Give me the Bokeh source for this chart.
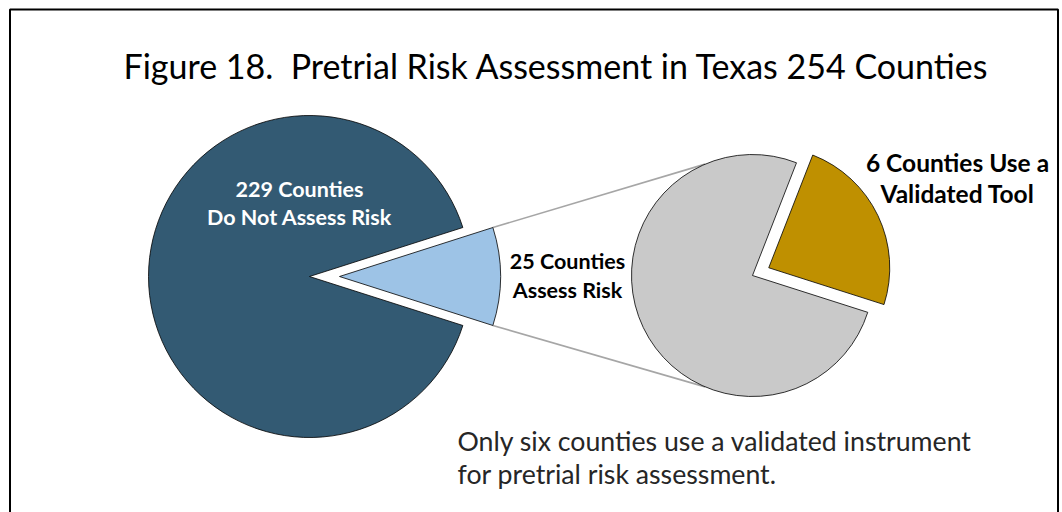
import math
from bokeh.plotting import figure
from bokeh.models import Range1d
from bokeh.core.properties import value
from bokeh.embed import file_html
from bokeh.resources import INLINE

# ---- data ----
total_counties = 254
main_labels = ["229 Counties\nDo Not Assess Risk", "25 Counties\nAssess Risk"]
main_values = [229, 25]
sub_labels = ["6 Counties Use a\nValidated Tool", "Not validated"]
sub_values = [6, 19]
title_text = "Figure 18.\u00a0 Pretrial Risk Assessment in Texas 254 Counties"
note_lines = ["Only six counties use a validated instrument",
              "for pretrial risk assessment."]

# ---- styles / layout ----
W, H = 1062, 512
FONT = "Lato"
c_dark = "#335A73"
c_blue = "#9DC3E6"
c_gray = "#C9C9C9"
c_gold = "#BF9000"
c_line = "#A6A6A6"

p = figure(width=W, height=H, output_backend="svg", toolbar_location=None,
           x_range=Range1d(0, W), y_range=Range1d(0, H), min_border=0,
           tools="")
p.axis.visible = False
p.grid.visible = False
p.outline_line_color = None
p.background_fill_color = "white"
p.border_fill_color = "white"

def px(x):
    return x
def py(y):
    return H - y

# main pie
cx1, cy1, r1 = px(309), py(276), 161
explode1 = 30
half = math.pi * main_values[1] / total_counties
bx, by = cx1 + explode1, cy1
# second pie
cx2, cy2, r2 = px(752), py(275), 121
explode2 = 18
sub_total = sum(sub_values)
gold_start = -half
gold_end = gold_start + 2 * math.pi * sub_values[0] / sub_total
gmid = (gold_start + gold_end) / 2
gx, gy = cx2 + explode2 * math.cos(gmid), cy2 + explode2 * math.sin(gmid)

# connector lines
a_top, a_bot = math.radians(113), math.radians(247)
x_start_t = bx + r1 * math.cos(half); y_start_t = by + r1 * math.sin(half)
x_start_b = bx + r1 * math.cos(-half); y_start_b = by + r1 * math.sin(-half)
p.line([x_start_t, cx2 + r2 * math.cos(a_top)], [y_start_t, cy2 + r2 * math.sin(a_top)],
       line_color=c_line, line_width=1.6)
p.line([x_start_b, cx2 + r2 * math.cos(a_bot)], [y_start_b, cy2 + r2 * math.sin(a_bot)],
       line_color=c_line, line_width=1.6)

# main pie wedges
p.wedge(x=[cx1], y=[cy1], radius=r1, start_angle=half, end_angle=2 * math.pi - half,
        fill_color=c_dark, line_color="black", line_width=0.8)
p.wedge(x=[bx], y=[by], radius=r1, start_angle=-half, end_angle=half,
        fill_color=c_blue, line_color="black", line_width=0.8)

# second pie wedges
p.wedge(x=[cx2], y=[cy2], radius=r2, start_angle=gold_end, end_angle=gold_start + 2 * math.pi,
        fill_color=c_gray, line_color="black", line_width=0.8)
p.wedge(x=[gx], y=[gy], radius=r2, start_angle=gold_start, end_angle=gold_end,
        fill_color=c_gold, line_color="black", line_width=0.8)

# frame (left, top, right)
p.line([px(9.5), px(9.5), px(1057.5), px(1057.5)], [-10, py(9), py(9), -10],
       line_color="black", line_width=2)

# texts
p.text(x=[px(556)], y=[py(65)], text=[title_text], text_font=value(FONT),
       text_font_size="34px", text_align="center", text_baseline="alphabetic",
       text_color="black")

def two_lines(label, x, y1, y2, size, color, style="bold"):
    l1, l2 = label.split("\n")
    p.text(x=[x, x], y=[y1, y2], text=[l1, l2], text_font=value(FONT),
           text_font_size=size, text_font_style=style, text_align="center",
           text_baseline="alphabetic", text_color=color)

two_lines(main_labels[0], px(299), py(188), py(216), "21.5px", "white")
two_lines(main_labels[1], px(567), py(260), py(289), "21.5px", "black")
two_lines(sub_labels[0], px(957), py(161.5), py(192.5), "24.5px", "black")

p.text(x=[px(457), px(457)], y=[py(440), py(473)], text=note_lines,
       text_font=value(FONT), text_font_size="26.7px", text_align="left",
       text_baseline="alphabetic", text_color="#262626")

open("out.html", "w").write(file_html(p, INLINE))
